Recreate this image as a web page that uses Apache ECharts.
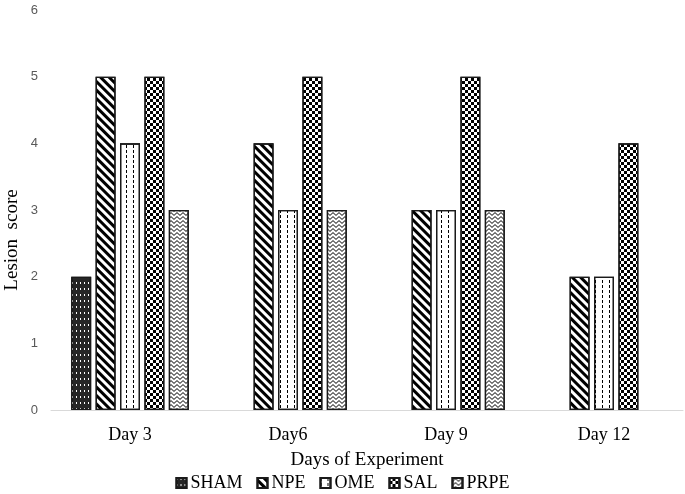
<!DOCTYPE html>
<html>
<head>
<meta charset="utf-8">
<script src="https://cdn.jsdelivr.net/npm/echarts@6/dist/echarts.min.js"></script>
<style>
html,body{margin:0;padding:0;background:#fff;}
#chart{width:685px;height:494px;}
</style>
</head>
<body>
<div id="chart"></div>
<script>
var categories = ['Day 3', 'Day6', 'Day 9', 'Day 12'];
var seriesNames = ['SHAM', 'NPE', 'OME', 'SAL', 'PRPE'];
var shamValues = [2, 0, 0, 0];
var npeValues = [5, 4, 3, 2];
var omeValues = [4, 3, 3, 2];
var salValues = [5, 5, 5, 4];
var prpeValues = [3, 3, 3, 0];
var yTicks = [0, 1, 2, 3, 4, 5, 6];

var valuesList = [shamValues, npeValues, omeValues, salValues, prpeValues];

var decals = [
  { symbol: 'rect', color: '#ffffff', symbolSize: 1, dashArrayX: [1, 3], dashArrayY: [2, 4] },
  { symbol: 'rect', color: '#000000', symbolSize: 1, dashArrayX: [1, 0], dashArrayY: [3, 3], rotation: Math.PI / 4 },
  { symbol: 'rect', color: '#000000', symbolSize: 1, dashArrayX: [1, 6], dashArrayY: [3, 2] },
  { symbol: 'rect', color: '#000000', symbolSize: 1, dashArrayX: [[3, 3], [0, 3, 3, 0]], dashArrayY: [3, 0] },
  { symbol: 'path://M0 3 L3 0 L6 3 L6 4.4 L3 1.4 L0 4.4 Z', symbolKeepAspect: false, color: '#333333', symbolSize: 1, dashArrayX: [6, 0], dashArrayY: [4, 0] }
];
var fills = ['#262626', '#ffffff', '#ffffff', '#ffffff', '#ffffff'];

var chart = echarts.init(document.getElementById('chart'), null, { renderer: 'canvas' });

var series = seriesNames.map(function (name, i) {
  return {
    name: name,
    type: 'bar',
    barWidth: 20,
    barGap: '22%',
    itemStyle: {
      color: fills[i],
      borderColor: '#1a1a1a',
      borderWidth: 1.3,
      decal: decals[i]
    },
    data: valuesList[i].map(function (v) { return v === 0 ? null : v; })
  };
});

chart.setOption({
  animation: false,
  grid: { left: 51, right: 2, top: 10, bottom: 84 },
  xAxis: {
    type: 'category',
    data: categories,
    axisLine: { show: true, lineStyle: { color: '#d9d9d9', width: 1 } },
    axisTick: { show: false },
    axisLabel: { color: '#000', fontFamily: 'Liberation Serif', fontSize: 18, margin: 16 },
    name: 'Days of Experiment',
    nameLocation: 'middle',
    nameGap: 41,
    nameTextStyle: { color: '#000', fontFamily: 'Liberation Serif', fontSize: 19 }
  },
  yAxis: {
    type: 'value',
    min: yTicks[0],
    max: yTicks[yTicks.length - 1],
    interval: 1,
    axisLine: { show: false },
    axisTick: { show: false },
    splitLine: { show: false },
    axisLabel: { color: '#595959', fontFamily: 'Liberation Sans', fontSize: 13, margin: 13 }
  },
  legend: {
    data: seriesNames,
    bottom: 2,
    left: 'center',
    padding: 0,
    icon: 'rect',
    itemWidth: 10,
    itemHeight: 10,
    itemGap: 14,
    textStyle: { color: '#000', fontFamily: 'Liberation Serif', fontSize: 18, padding: [0, 0, 0, -1] }
  },
  graphic: [{
    type: 'text',
    x: 12,
    y: 240,
    rotation: Math.PI / 2,
    style: {
      text: 'Lesion  score',
      fill: '#000',
      font: '19px "Liberation Serif"',
      textAlign: 'center',
      textVerticalAlign: 'middle'
    }
  }],
  series: series
});
</script>
</body>
</html>
